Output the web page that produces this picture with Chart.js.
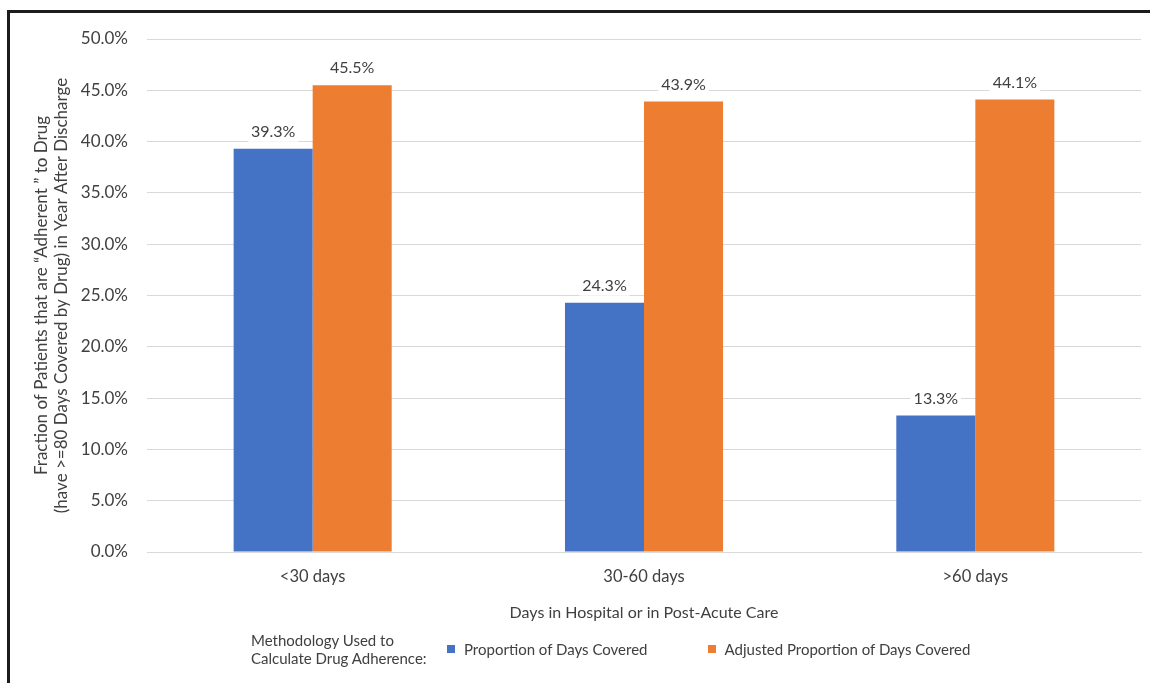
<!DOCTYPE html>
<html>
<head>
<meta charset="utf-8">
<script src="https://cdn.jsdelivr.net/npm/chart.js@4/dist/chart.umd.min.js"></script>
<style>
  html, body { margin: 0; padding: 0; background: #fff; }
  #wrap { position: relative; width: 1150px; height: 683px; overflow: hidden; background: #fff; }
  #frame { position: absolute; left: 7px; top: 10px; width: 1200px; height: 700px;
           border-left: 3px solid #1c1c1c; border-top: 3px solid #1c1c1c; pointer-events: none; }
  canvas { position: absolute; left: 0; top: 0; }
  #legend { position: absolute; left: 251px; top: 631px; font-family: Lato, "Liberation Sans", sans-serif;
            font-size: 15px; color: #404040; display: flex; align-items: center; }
  #legend .title { line-height: 18px; width: 196px; }
  #legend .item { display: flex; align-items: center; margin-right: 60px; }
  #legend .sw { width: 8px; height: 8px; margin-right: 9px; }
</style>
</head>
<body>
<div id="wrap">
  <canvas id="c" width="1150" height="683"></canvas>
  <div id="frame"></div>
  <div id="legend"></div>
</div>
<script>
// Chart data
const categories = ['<30 days', '30-60 days', '>60 days'];
const pdcValues = [39.3, 24.3, 13.3];
const adjustedPdcValues = [45.5, 43.9, 44.1];
const seriesNames = ['Proportion of Days Covered', 'Adjusted Proportion of Days Covered'];
const seriesColors = ['#4472C4', '#ED7D31'];
const yTitleLines = ['Fraction of Patients that are \u201CAdherent \u201D to Drug',
                     '(have >=80 Days Covered by Drug) in Year After Discharge'];
const xTitle = 'Days in Hospital or in Post-Acute Care';
const legendTitleLines = ['Methodology Used to', 'Calculate Drug Adherence:'];

const FONT = 'Lato, "Liberation Sans", sans-serif';
const TEXT = '#404040';

// Value labels above each bar, on a white backing
const valueLabels = {
  id: 'valueLabels',
  afterDatasetsDraw(chart) {
    const ctx = chart.ctx;
    ctx.save();
    ctx.font = '16px ' + FONT;
    ctx.textAlign = 'center';
    ctx.textBaseline = 'middle';
    chart.data.datasets.forEach((ds, di) => {
      chart.getDatasetMeta(di).data.forEach((bar, i) => {
        const txt = ds.data[i].toFixed(1) + '%';
        const y = bar.y - 17;
        const w = ctx.measureText(txt).width + 6;
        ctx.fillStyle = '#fff';
        ctx.fillRect(bar.x - w / 2, y - 10, w, 20);
        ctx.fillStyle = TEXT;
        ctx.fillText(txt, bar.x, y);
      });
    });
    ctx.restore();
  }
};

const chart = new Chart(document.getElementById('c'), {
  type: 'bar',
  data: {
    labels: categories,
    datasets: [
      { label: seriesNames[0], data: pdcValues, backgroundColor: seriesColors[0] },
      { label: seriesNames[1], data: adjustedPdcValues, backgroundColor: seriesColors[1] }
    ]
  },
  options: {
    responsive: false,
    animation: false,
    layout: { padding: { left: 0, top: 39, right: 9, bottom: 61 } },
    datasets: { bar: { categoryPercentage: 0.477, barPercentage: 1.0 } },
    plugins: {
      legend: { display: false },
      tooltip: { enabled: false }
    },
    scales: {
      x: {
        grid: { display: false, drawTicks: false },
        border: { display: true, color: '#d9d9d9', width: 1 },
        ticks: { color: TEXT, font: { family: FONT, size: 16.5 }, padding: 15 },
        title: { display: true, text: xTitle, color: TEXT, font: { family: FONT, size: 16 },
                 padding: { top: 0, bottom: 0 } },
        afterFit(scale) { scale.height = 70; }
      },
      y: {
        min: 0, max: 50,
        grid: { color: '#d9d9d9', lineWidth: 1, drawTicks: false },
        border: { display: false },
        ticks: { stepSize: 5, color: TEXT, font: { family: FONT, size: 17 }, padding: 19,
                 callback: v => v.toFixed(1) + '%' },
        title: { display: true, text: yTitleLines, color: TEXT, font: { family: FONT, size: 17, lineHeight: 1.2 },
                 padding: { top: 31, bottom: 0 } },
        afterFit(scale) { scale.width = 147; }
      }
    }
  },
  plugins: [valueLabels]
});

// Legend with title on the left, built from the chart's datasets
const legend = document.getElementById('legend');
const t = document.createElement('div');
t.className = 'title';
t.innerHTML = legendTitleLines.join('<br>');
legend.appendChild(t);
chart.data.datasets.forEach(ds => {
  const item = document.createElement('div');
  item.className = 'item';
  const sw = document.createElement('span');
  sw.className = 'sw';
  sw.style.background = ds.backgroundColor;
  const lab = document.createElement('span');
  lab.textContent = ds.label;
  item.appendChild(sw);
  item.appendChild(lab);
  legend.appendChild(item);
});
</script>
</body>
</html>
